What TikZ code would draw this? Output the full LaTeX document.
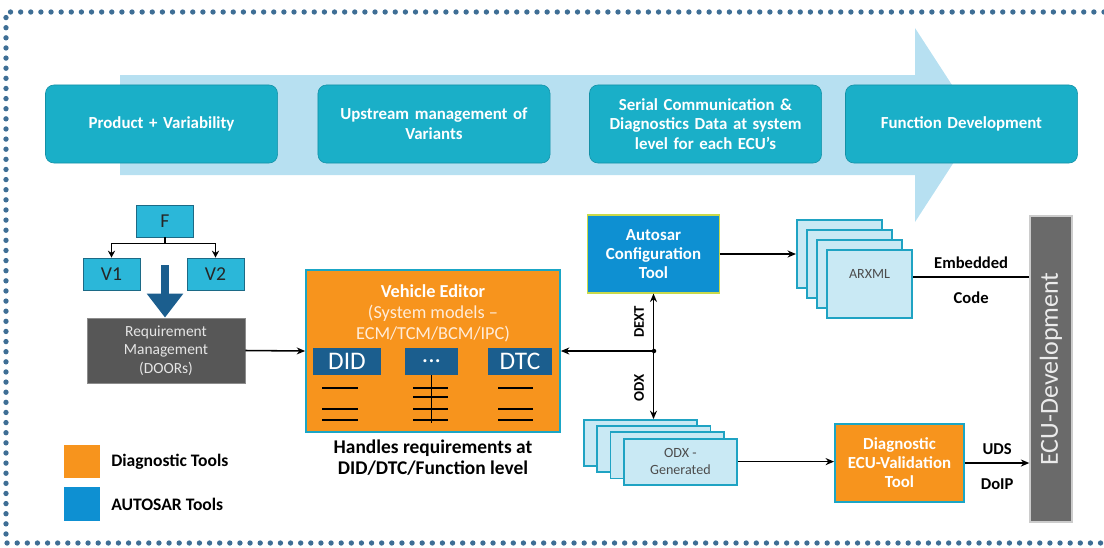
\documentclass[tikz,border=0pt]{standalone}
\usepackage{fontspec}
\setmainfont{Carlito}
\usepackage{xcolor}
\usetikzlibrary{positioning, arrows.meta}

\definecolor{stageteal}{HTML}{1AAFC8}
\definecolor{stageedge}{HTML}{1390A6}
\definecolor{flowblue}{HTML}{B7E0F1}
\definecolor{varcyan}{HTML}{2BB7D9}
\definecolor{varedge}{HTML}{1C6A86}
\definecolor{navy}{HTML}{1B5E8E}
\definecolor{reqgray}{HTML}{575757}
\definecolor{diagorange}{HTML}{F7941D}
\definecolor{tooledge}{HTML}{1AA6C6}
\definecolor{autoblue}{HTML}{0E90D2}
\definecolor{autoedge}{HTML}{C9D94A}
\definecolor{docblue}{HTML}{C9E9F4}
\definecolor{docedge}{HTML}{1FA3C3}
\definecolor{ecugray}{HTML}{6A6A6A}
\definecolor{dotblue}{HTML}{3E6E95}

\begin{document}
\begin{tikzpicture}[x=0.025cm, y=-0.025cm,
  stage/.style={draw=stageedge, fill=stageteal, rounded corners=6pt, minimum width=5.8cm, minimum height=1.95cm,
               text width=5.4cm, align=center, text=white, font=\bfseries\fontsize{12}{14}\selectfont},
  varbox/.style={draw=varedge, fill=varcyan, minimum width=1.42cm, minimum height=0.8cm,
               font=\fontsize{14}{16}\selectfont, text=black!85},
  tool/.style={draw=tooledge, line width=1.2pt, align=center, text=white, font=\bfseries\fontsize{12}{13.5}\selectfont},
  field/.style={fill=navy, minimum height=0.68cm, text=white, font=\fontsize{18}{19}\selectfont, inner sep=0pt},
  doc/.style={draw=docedge, line width=1.3pt, fill=docblue},
  doctext/.style={align=center, text=black!70, font=\fontsize{10}{12.5}\selectfont},
  tag/.style={font=\bfseries\fontsize{11.8}{13}\selectfont},
  vtag/.style={font=\bfseries\fontsize{10.5}{12}\selectfont, rotate=90},
  conn/.style={-{Stealth[length=6pt, width=5pt]}, line width=1.1pt},
  legendbox/.style={minimum width=0.9cm, minimum height=0.83cm, inner sep=0pt},
  legendtext/.style={font=\bfseries\fontsize{12.5}{14}\selectfont}
]
\useasboundingbox (0,0) rectangle (1104,547);

% dotted frame
\draw[dotblue, line width=3.8pt, line cap=round, dash pattern=on 0pt off 7.2pt]
  (1104,12) -- (6,12) -- (6,543) -- (1104,543);

% process flow arrow and stages
\fill[flowblue] (120,75) -- (915,75) -- (915,28) -- (978,125) -- (915,222) -- (915,175) -- (120,175) -- cycle;
\node[stage] (product) at (161.5,124) {Product + Variability};
\node[stage] (upstream) at (434,124) {Upstream management of\\Variants};
\node[stage] (serial) at (705.5,124) {Serial Communication \&\\Diagnostics Data at system\\level for each ECU's};
\node[stage] (function) at (961.5,124) {Function Development};

% feature and variants
\node[varbox] (feat) at (165,221) {F};
\node[varbox] (var1) at (111.5,274) {V1};
\node[varbox] (var2) at (215.5,274) {V2};
\draw[-{Stealth[length=5pt, width=5pt]}, line width=0.9pt] (feat.south) -- ++(0,6) -| (var1.north);
\draw[-{Stealth[length=5pt, width=5pt]}, line width=0.9pt] (feat.south) -- ++(0,6) -| (var2.north);

% requirement management
\node[fill=reqgray, draw=black!45, minimum width=3.95cm, minimum height=1.63cm, align=center,
      text=black!10, font=\fontsize{11}{13}\selectfont] (req) at (166,350.5) {Requirement\\Management\\(DOORs)};
\coordinate (vdown) at (165,265);
\draw[navy, line width=0.2cm, -{Triangle[width=0.875cm, length=0.6cm]}] (vdown) -- (vdown |- req.north);

% vehicle editor
\node[tool, fill=diagorange, minimum width=6.35cm, minimum height=4.05cm] (editor) at (433,351) {};
\node[align=center, text=white, font=\fontsize{13}{15}\selectfont] (editortitle) at (433,313)
  {\textbf{Vehicle Editor}\\{\color{orange!15}(System models --}\\{\color{orange!15}ECM/TCM/BCM/IPC)}};
\node[field, minimum width=1.7cm] (did) at (347,361.5) {DID};
\node[field, minimum width=1.33cm] (dots) at (431.5,361.5) {...};
\node[field, minimum width=1.6cm] (dtc) at (520,361.5) {DTC};
\foreach \y in {388,409,420} {
  \draw[line width=0.9pt] (322,\y) -- (358,\y);
  \draw[line width=0.9pt] (498,\y) -- (533,\y);
}
\foreach \y in {388,397,409,420}
  \draw[line width=0.9pt] (413,\y) -- (448,\y);
\draw[line width=0.9pt] (dots.south) -- ++(0,48);
\node[align=center, font=\bfseries\fontsize{13.8}{14.5}\selectfont] (editorcap) at (433,457.5)
  {Handles requirements at\\DID/DTC/Function level};
\draw[conn] (req.east) -- (editor.west);

% autosar configuration
\node[tool, fill=autoblue, draw=autoedge, line width=0.8pt, minimum width=3.28cm, minimum height=1.95cm] (autosar)
  at (653.5,254) {Autosar\\Configuration\\Tool};
\foreach \i in {0,...,3}
  \node[doc, minimum width=2.13cm, minimum height=1.7cm] (arxml\i) at ({839.5+10*\i},{254+10*\i}) {};
\node[doctext] (arxmltext) at (869.5,274) {ARXML};
\draw[conn] (autosar.east) -- (arxml0.west);

% ECU development
\node[fill=ecugray, draw=black!20, line width=1pt, minimum width=1.05cm, minimum height=7.65cm] (ecu) at (1051,369) {};
\node[rotate=90, text=black!8, font=\fontsize{18.5}{20}\selectfont] (ecutext) at (ecu.center) {ECU-Development};
\draw[line width=1.1pt] ([yshift=0.175cm]arxml3.east) coordinate (emb) -- (emb -| ecu.west)
  node[midway, above=2pt, tag] {Embedded} node[midway, below=7pt, tag] {Code};

% ODX stack
\foreach \i in {0,...,3}
  \node[doc, minimum width=2.83cm, minimum height=1.15cm] (odx\i) at ({640.5+13.3*\i},{443+6.2*\i}) {};
\node[doctext] (odxtext) at (odx3.center) {ODX -\\Generated};

% DEXT / ODX exchange
\coordinate (split) at (654,351);
\draw[line width=1.1pt, {Stealth[length=6pt, width=5pt]}-{Stealth[length=6pt, width=5pt]}]
  (autosar.south) -- (autosar.south |- odx0.north);
\fill (split) circle (1.6pt);
\draw[conn] (split) -- (editor.east);
\node[vtag] (dextlabel) at (639,322) {DEXT};
\node[vtag] (odxlabel) at (639,388) {ODX};

% diagnostic validation
\node[tool, fill=diagorange, minimum width=3.23cm, minimum height=1.95cm] (diag) at (899.5,463)
  {Diagnostic\\ECU-Validation\\Tool};
\draw[conn] (odx3.east) -- (odx3.east -| diag.west);
\draw[conn] (diag.east) -- (diag.east -| ecu.west)
  node[midway, above=2pt, tag] {UDS} node[midway, below=7pt, tag] {DoIP};

% legend
\node[legendbox, fill=diagorange] (legdiag) at (82,461.5) {};
\node[legendbox, fill=autoblue] (legauto) at (82,504) {};
\node[legendtext, right=0.15cm of legdiag] (legdiagtext) {Diagnostic Tools};
\node[legendtext, right=0.15cm of legauto] (legautotext) {AUTOSAR Tools};
\end{tikzpicture}
\end{document}
